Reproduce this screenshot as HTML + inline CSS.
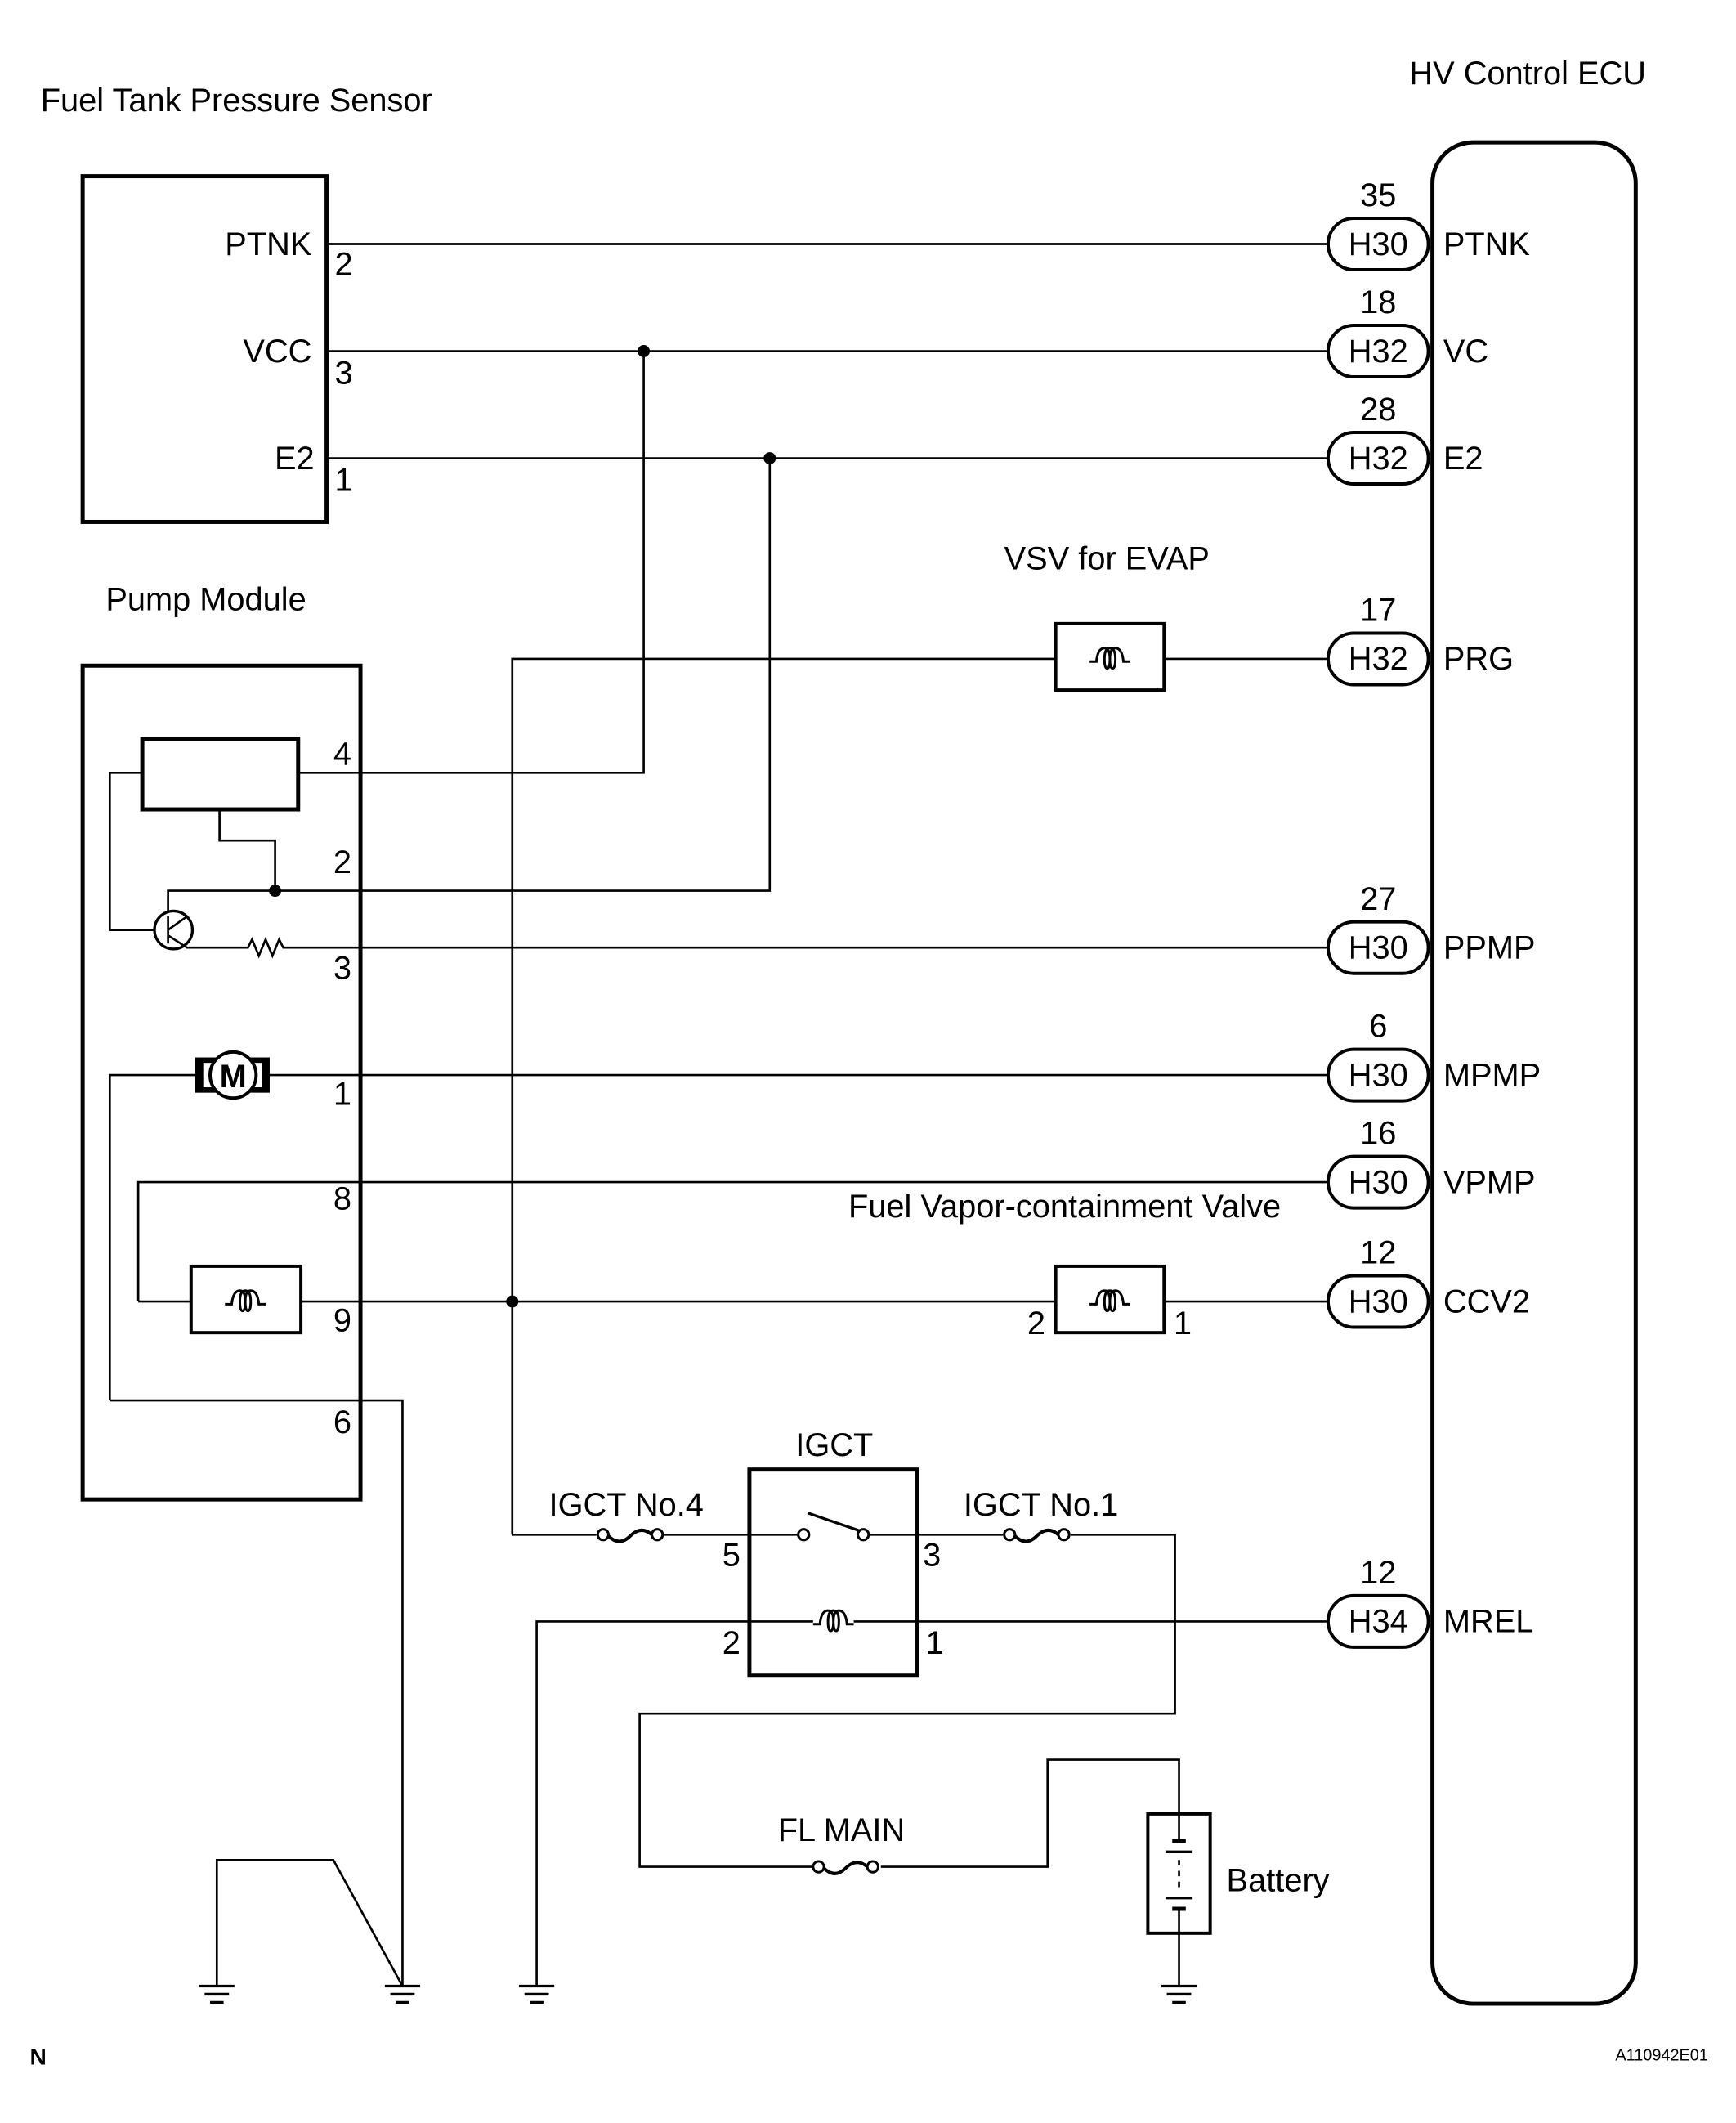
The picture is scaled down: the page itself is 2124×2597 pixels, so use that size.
<!DOCTYPE html>
<html><head><meta charset="utf-8"><style>
html,body{margin:0;padding:0;background:#fff;}
svg{display:block;}
text{font-family:"Liberation Sans",Arial,sans-serif;fill:#000;}
</style></head><body>
<svg width="2124" height="2597" viewBox="0 0 1281 1566" preserveAspectRatio="none" xmlns="http://www.w3.org/2000/svg">
<defs>
<g id="coil"><path d="M-15,0 h5 q1,-10 6,-10 q4,0 4,8 q0,7 -2,7 q-2,0 -2,-7 q0,-8 4,-8 q4,0 4,8 q0,7 -2,7 q-2,0 -2,-7 q0,-8 4,-8 q5,0 6,10 h5" fill="none" stroke="#000" stroke-width="1.8"/></g>
<g id="gnd"><line x1="-13" y1="0" x2="13" y2="0" stroke="#000" stroke-width="2"/><line x1="-9" y1="6" x2="9" y2="6" stroke="#000" stroke-width="2"/><line x1="-5" y1="12" x2="5" y2="12" stroke="#000" stroke-width="2"/></g>
<g id="fuse"><circle cx="-20" cy="0" r="4" fill="#fff" stroke="#000" stroke-width="1.8"/><circle cx="20" cy="0" r="4" fill="#fff" stroke="#000" stroke-width="1.8"/><path d="M-16,1 q8,8 16,0 q8,-8 16,-1" fill="none" stroke="#000" stroke-width="2.4"/></g>
</defs>
<g font-size="24">
<text x="30" y="82">Fuel Tank Pressure Sensor</text>
<text x="1040" y="62">HV Control ECU</text>
<text x="78" y="450">Pump Module</text>
<text x="741" y="420">VSV for EVAP</text>
<text x="626" y="898">Fuel Vapor-containment Valve</text>
<text x="587" y="1074">IGCT</text>
<text x="405" y="1118">IGCT No.4</text>
<text x="711" y="1118">IGCT No.1</text>
<text x="574" y="1358">FL MAIN</text>
<text x="905" y="1395">Battery</text>
<text x="230" y="188" text-anchor="end">PTNK</text>
<text x="230" y="267" text-anchor="end">VCC</text>
<text x="232" y="346" text-anchor="end">E2</text>
<text x="247" y="203">2</text><text x="247" y="283">3</text><text x="247" y="362">1</text>
<text x="246" y="564">4</text><text x="246" y="644">2</text><text x="246" y="722">3</text>
<text x="246" y="815">1</text><text x="246" y="892">8</text><text x="246" y="982">9</text><text x="246" y="1057">6</text>
<text x="758" y="984">2</text><text x="866" y="984">1</text>
<text x="533" y="1155">5</text><text x="681" y="1155">3</text>
<text x="533" y="1220">2</text><text x="683" y="1220">1</text>
</g>
<text x="22" y="1523" font-size="17" font-weight="bold">N</text>
<text x="1192" y="1520" font-size="12">A110942E01</text>
<g fill="none" stroke="#000" stroke-width="3">
<rect x="61" y="130" width="180" height="255"/>
<rect x="61" y="491" width="205" height="615"/>
<rect x="1057" y="105" width="150" height="1373" rx="30"/>
<rect x="105" y="545" width="115" height="52"/>
<rect x="553" y="1084" width="124" height="152"/>
</g>
<g fill="none" stroke="#000" stroke-width="1.6">
<path d="M241,180 H985"/>
<path d="M241,259 H985"/>
<path d="M241,338 H985"/>
<path d="M475,259 V570 H220"/>
<path d="M568,338 V657 H124 V672"/>
<path d="M162,597 V620 H203 V657"/>
<path d="M105,570 H81 V686 H114"/>
<path d="M124,676 V696 M124,686 L138,676 M124,690 L138,699 H183 l3,-6 l5,12 l5,-12 l5,12 l5,-12 l3,6 H985"/>
<path d="M378,1132 V486 H779 M859,486 H985"/>
<path d="M81,1033 V793 H148 M196,793 H985"/>
<path d="M81,1033 H297 V1465"/>
<path d="M102,960 V872 H985"/>
<path d="M102,960 H141 M222,960 H779 M859,960 H985"/>
<path d="M378,1132 H440 M490,1132 H593 M637,1132 H740 M790,1132 H867 V1264 H472 V1377 H600 M650,1377 H773 V1298 H870 V1338 M870,1426 V1465"/>
<path d="M396,1465 V1196 H600 M630,1196 H985"/>
<path d="M160,1465 V1372 H246 L297,1465"/>
</g>
<rect x="779" y="460" width="80" height="49" fill="none" stroke="#000" stroke-width="2.4"/>
<rect x="779" y="934" width="80" height="49" fill="none" stroke="#000" stroke-width="2.4"/>
<rect x="141" y="934" width="81" height="49" fill="none" stroke="#000" stroke-width="2.4"/>
<use href="#coil" x="819" y="488"/><use href="#coil" x="819" y="962"/><use href="#coil" x="181" y="962"/><use href="#coil" x="615" y="1198"/>
<circle cx="128" cy="686" r="14" fill="none" stroke="#000" stroke-width="2"/>
<circle cx="475" cy="259" r="4.5"/><circle cx="568" cy="338" r="4.5"/><circle cx="203" cy="657" r="4.5"/><circle cx="378" cy="960" r="4.5"/>
<rect x="144" y="780" width="55" height="26" fill="#000"/>
<rect x="150" y="784" width="43" height="18" fill="#fff"/>
<circle cx="172" cy="793" r="17" fill="#fff" stroke="#000" stroke-width="2.4"/>
<text x="172" y="802" font-size="24" font-weight="bold" text-anchor="middle">M</text>
<circle cx="593" cy="1132" r="4" fill="#fff" stroke="#000" stroke-width="1.8"/>
<circle cx="637" cy="1132" r="4" fill="#fff" stroke="#000" stroke-width="1.8"/>
<line x1="596" y1="1116" x2="634" y2="1129" stroke="#000" stroke-width="2"/>
<use href="#fuse" x="465" y="1132"/><use href="#fuse" x="765" y="1132"/><use href="#fuse" x="624" y="1377"/>
<rect x="847" y="1338" width="46" height="88" fill="none" stroke="#000" stroke-width="2.4"/>
<line x1="860" y1="1366" x2="880" y2="1366" stroke="#000" stroke-width="2"/>
<line x1="865" y1="1358" x2="875" y2="1358" stroke="#000" stroke-width="3"/>
<line x1="860" y1="1400" x2="880" y2="1400" stroke="#000" stroke-width="2"/>
<line x1="865" y1="1408" x2="875" y2="1408" stroke="#000" stroke-width="3"/>
<line x1="870" y1="1338" x2="870" y2="1358" stroke="#000" stroke-width="1.6"/>
<line x1="870" y1="1372" x2="870" y2="1395" stroke="#000" stroke-width="1.6" stroke-dasharray="4,4"/>
<line x1="870" y1="1408" x2="870" y2="1426" stroke="#000" stroke-width="1.6"/>
<use href="#gnd" x="160" y="1465"/><use href="#gnd" x="297" y="1465"/><use href="#gnd" x="396" y="1465"/><use href="#gnd" x="870" y="1465"/>
<g font-size="24">
<g transform="translate(0,180)"><rect x="980" y="-19" width="74" height="38" rx="19" fill="#fff" stroke="#000" stroke-width="2.4"/><text x="1017" y="8" text-anchor="middle">H30</text><text x="1017" y="-28" text-anchor="middle">35</text><text x="1065" y="8">PTNK</text></g>
<g transform="translate(0,259)"><rect x="980" y="-19" width="74" height="38" rx="19" fill="#fff" stroke="#000" stroke-width="2.4"/><text x="1017" y="8" text-anchor="middle">H32</text><text x="1017" y="-28" text-anchor="middle">18</text><text x="1065" y="8">VC</text></g>
<g transform="translate(0,338)"><rect x="980" y="-19" width="74" height="38" rx="19" fill="#fff" stroke="#000" stroke-width="2.4"/><text x="1017" y="8" text-anchor="middle">H32</text><text x="1017" y="-28" text-anchor="middle">28</text><text x="1065" y="8">E2</text></g>
<g transform="translate(0,486)"><rect x="980" y="-19" width="74" height="38" rx="19" fill="#fff" stroke="#000" stroke-width="2.4"/><text x="1017" y="8" text-anchor="middle">H32</text><text x="1017" y="-28" text-anchor="middle">17</text><text x="1065" y="8">PRG</text></g>
<g transform="translate(0,699)"><rect x="980" y="-19" width="74" height="38" rx="19" fill="#fff" stroke="#000" stroke-width="2.4"/><text x="1017" y="8" text-anchor="middle">H30</text><text x="1017" y="-28" text-anchor="middle">27</text><text x="1065" y="8">PPMP</text></g>
<g transform="translate(0,793)"><rect x="980" y="-19" width="74" height="38" rx="19" fill="#fff" stroke="#000" stroke-width="2.4"/><text x="1017" y="8" text-anchor="middle">H30</text><text x="1017" y="-28" text-anchor="middle">6</text><text x="1065" y="8">MPMP</text></g>
<g transform="translate(0,872)"><rect x="980" y="-19" width="74" height="38" rx="19" fill="#fff" stroke="#000" stroke-width="2.4"/><text x="1017" y="8" text-anchor="middle">H30</text><text x="1017" y="-28" text-anchor="middle">16</text><text x="1065" y="8">VPMP</text></g>
<g transform="translate(0,960)"><rect x="980" y="-19" width="74" height="38" rx="19" fill="#fff" stroke="#000" stroke-width="2.4"/><text x="1017" y="8" text-anchor="middle">H30</text><text x="1017" y="-28" text-anchor="middle">12</text><text x="1065" y="8">CCV2</text></g>
<g transform="translate(0,1196)"><rect x="980" y="-19" width="74" height="38" rx="19" fill="#fff" stroke="#000" stroke-width="2.4"/><text x="1017" y="8" text-anchor="middle">H34</text><text x="1017" y="-28" text-anchor="middle">12</text><text x="1065" y="8">MREL</text></g>
</g>
</svg>
</body></html>
